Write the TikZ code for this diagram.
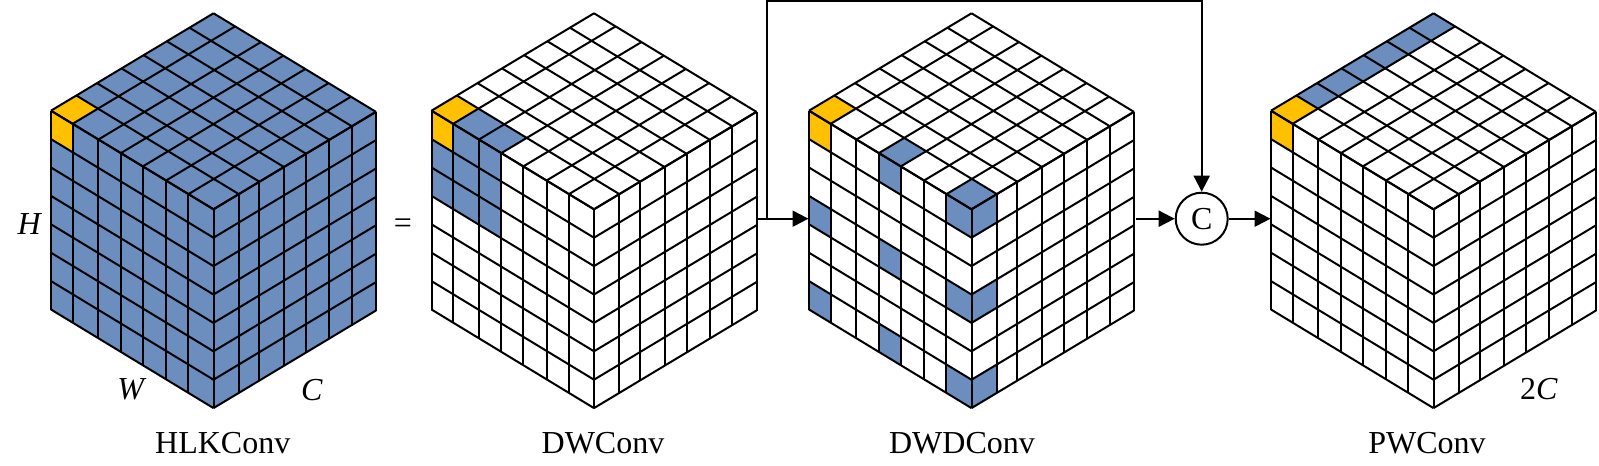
\documentclass[tikz,border=0pt]{standalone}
\usepackage{fontspec}
\setmainfont{Liberation Serif}
\usetikzlibrary{arrows.meta}
\definecolor{cellblue}{HTML}{6C8EBF}
\definecolor{cellgold}{HTML}{FFC000}
\tikzset{
  gridline/.style={black,line width=2pt},
  conn/.style={black,line width=2pt},
  lab/.style={font=\fontsize{32}{36}\selectfont,inner sep=0pt},
}
% corner points of one cube, centred on x=#1
\newcommand{\setcube}[1]{
  \foreach \i/\fc in {0/0,1/.156,2/.283,3/.434,4/.57,5/.713,6/.852,7/1}
    \foreach \j/\fw in {0/0,1/.133,2/.292,3/.43,4/.565,5/.708,6/.846,7/1}
      \coordinate (T\i\j) at (#1-162.5+162.5*\fc+162.5*\fw,110.7-97.4*\fc+98.6*\fw);
  \foreach \k in {0,...,7}{
    \foreach \j/\fw in {0/0,1/.133,2/.292,3/.43,4/.565,5/.708,6/.846,7/1}
      \coordinate (L\j\k) at (#1-162.5+162.5*\fw,110.7+98.6*\fw+28.4*\k);
    \foreach \i/\fc in {0/0,1/.156,2/.283,3/.434,4/.57,5/.713,6/.852,7/1}
      \coordinate (R\i\k) at (#1+162.5*\fc,209.3-97.6*\fc+28.4*\k);
  }
}
\newcommand{\topcell}[3][cellblue]{
  \pgfmathtruncatemacro{\ia}{#2+1}\pgfmathtruncatemacro{\ja}{#3+1}
  \fill[#1] (T#2#3)--(T\ia#3)--(T\ia\ja)--(T#2\ja)--cycle;
}
\newcommand{\leftcell}[3][cellblue]{
  \pgfmathtruncatemacro{\ia}{#2+1}\pgfmathtruncatemacro{\ja}{#3+1}
  \fill[#1] (L#2#3)--(L\ia#3)--(L\ia\ja)--(L#2\ja)--cycle;
}
\newcommand{\rightcell}[3][cellblue]{
  \pgfmathtruncatemacro{\ia}{#2+1}\pgfmathtruncatemacro{\ja}{#3+1}
  \fill[#1] (R#2#3)--(R\ia#3)--(R\ia\ja)--(R#2\ja)--cycle;
}
\newcommand{\drawcube}{
  \foreach \n in {0,...,7}{
    \draw[gridline] (T\n0)--(T\n7);
    \draw[gridline] (T0\n)--(T7\n);
    \draw[gridline] (L\n0)--(L\n7);
    \draw[gridline] (L0\n)--(L7\n);
    \draw[gridline] (R\n0)--(R\n7);
    \draw[gridline] (R0\n)--(R7\n);
  }
}
\begin{document}
\begin{tikzpicture}[x=1pt,y=-1pt,>={Triangle[length=16pt,width=16pt]}]
  \useasboundingbox (0,0) rectangle (1599,466);
  % HLKConv
  \setcube{213.5}
  \fill[cellblue] (L00)--(T70)--(R70)--(R77)--(R07)--(L07)--cycle;
  \topcell[cellgold]{0}{0}
  \leftcell[cellgold]{0}{0}
  \drawcube
  % DWConv
  \setcube{594}
  \foreach \j in {1,2} {\topcell{0}{\j}}
  \foreach \j/\k in {0/1,0/2,1/0,1/1,1/2,2/0,2/1,2/2} {\leftcell{\j}{\k}}
  \topcell[cellgold]{0}{0}
  \leftcell[cellgold]{0}{0}
  \drawcube
  % DWDConv
  \setcube{971.5}
  \foreach \j in {3,6} {\topcell{0}{\j}}
  \foreach \j/\k in {0/3,0/6,3/0,3/3,3/6,6/0,6/3,6/6} {\leftcell{\j}{\k}}
  \foreach \k in {0,3,6} {\rightcell{0}{\k}}
  \topcell[cellgold]{0}{0}
  \leftcell[cellgold]{0}{0}
  \drawcube
  % PWConv
  \setcube{1433.5}
  \foreach \i in {1,...,6} {\topcell{\i}{0}}
  \topcell[cellgold]{0}{0}
  \leftcell[cellgold]{0}{0}
  \drawcube

  \node[lab] (hlab) at (30,224) {\textit{H}};
  \node[lab] (wlab) at (132,389) {\textit{W}};
  \node[lab] (clab) at (312,390) {\textit{C}};
  \node[lab] (eqlab) at (403,226) {=};
  \node[lab] (twoclab) at (1539,389) {2\textit{C}};
  \node[lab] (hlkname) at (222.7,443) {HLKConv};
  \node[lab] (dwname) at (603,443) {DWConv};
  \node[lab] (dwdname) at (962,443) {DWDConv};
  \node[lab] (pwname) at (1427,443) {PWConv};

  \node[circle,draw,conn,fill=white,minimum size=52pt,inner sep=0pt,lab] (concat) at (1201.7,218.7) {C};
  \coordinate (dwout) at (756.7,218.7);
  \coordinate (fork) at (767.3,218.7);
  \coordinate (forktop) at (767.3,1);
  \coordinate (dwdin) at (808.5,218.7);
  \coordinate (dwdout) at (1136,218.7);
  \coordinate (pwin) at (1270.5,218.7);
  \draw[conn,->] (dwout)--(dwdin);
  \draw[conn,->] (fork)--(forktop)-|(concat);
  \draw[conn,->] (dwdout)--(concat);
  \draw[conn,->] (concat)--(pwin);
\end{tikzpicture}
\end{document}
